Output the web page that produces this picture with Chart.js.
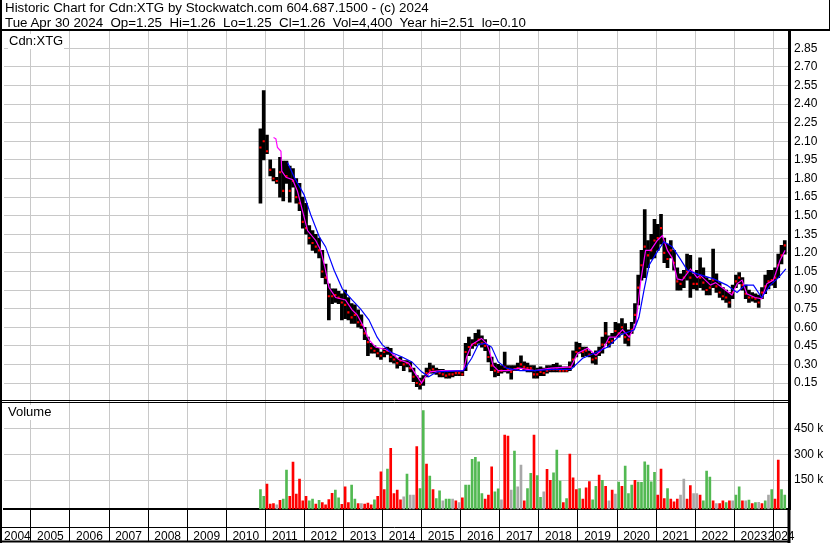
<!DOCTYPE html>
<html>
<head>
<meta charset="utf-8">
<title>Cdn:XTG historic chart</title>
<script src="https://cdn.jsdelivr.net/npm/chart.js@4.4.1/dist/chart.umd.min.js"></script>
<style>
  body { margin: 0; background: #fff; }
  #wrap { position: relative; width: 830px; height: 543px; overflow: hidden; font-family: "Liberation Sans", Arial, sans-serif; }
  #chart { position: absolute; left: 0; top: 0; }
  .txt { position: absolute; white-space: pre; color: #000; font-size: 13.33px; line-height: 14.5px; }
  .tag { background: #fff; padding: 0 1px; font-size: 13px; }
</style>
</head>
<body>
<div id="wrap">
  <canvas id="chart" width="830" height="543"></canvas>
  <div class="txt" style="left:5px;top:1px">Historic Chart for Cdn:XTG by Stockwatch.com 604.687.1500 - (c) 2024
Tue Apr 30 2024  Op=1.25  Hi=1.26  Lo=1.25  Cl=1.26  Vol=4,400  Year hi=2.51  lo=0.10</div>
  <div class="txt tag" style="left:8px;top:34px">Cdn:XTG</div>
  <div class="txt tag" style="left:7px;top:405px">Volume</div>
</div>
<script>
// monthly bars, Nov 2010 - Apr 2024
const months = [
  "2010-11", "2010-12",
  "2011-01", "2011-02", "2011-03", "2011-04", "2011-05", "2011-06", "2011-07", "2011-08", "2011-09", "2011-10", "2011-11", "2011-12",
  "2012-01", "2012-02", "2012-03", "2012-04", "2012-05", "2012-06", "2012-07", "2012-08", "2012-09", "2012-10", "2012-11", "2012-12",
  "2013-01", "2013-02", "2013-03", "2013-04", "2013-05", "2013-06", "2013-07", "2013-08", "2013-09", "2013-10", "2013-11", "2013-12",
  "2014-01", "2014-02", "2014-03", "2014-04", "2014-05", "2014-06", "2014-07", "2014-08", "2014-09", "2014-10", "2014-11", "2014-12",
  "2015-01", "2015-02", "2015-03", "2015-04", "2015-05", "2015-06", "2015-07", "2015-08", "2015-09", "2015-10", "2015-11", "2015-12",
  "2016-01", "2016-02", "2016-03", "2016-04", "2016-05", "2016-06", "2016-07", "2016-08", "2016-09", "2016-10", "2016-11", "2016-12",
  "2017-01", "2017-02", "2017-03", "2017-04", "2017-05", "2017-06", "2017-07", "2017-08", "2017-09", "2017-10", "2017-11", "2017-12",
  "2018-01", "2018-02", "2018-03", "2018-04", "2018-05", "2018-06", "2018-07", "2018-08", "2018-09", "2018-10", "2018-11", "2018-12",
  "2019-01", "2019-02", "2019-03", "2019-04", "2019-05", "2019-06", "2019-07", "2019-08", "2019-09", "2019-10", "2019-11", "2019-12",
  "2020-01", "2020-02", "2020-03", "2020-04", "2020-05", "2020-06", "2020-07", "2020-08", "2020-09", "2020-10", "2020-11", "2020-12",
  "2021-01", "2021-02", "2021-03", "2021-04", "2021-05", "2021-06", "2021-07", "2021-08", "2021-09", "2021-10", "2021-11", "2021-12",
  "2022-01", "2022-02", "2022-03", "2022-04", "2022-05", "2022-06", "2022-07", "2022-08", "2022-09", "2022-10", "2022-11", "2022-12",
  "2023-01", "2023-02", "2023-03", "2023-04", "2023-05", "2023-06", "2023-07", "2023-08", "2023-09", "2023-10", "2023-11", "2023-12",
  "2024-01", "2024-02", "2024-03", "2024-04"
];

const high = [
  2.20, 2.51,
  2.15, 1.95, 1.88, 1.81, 1.97, 1.94, 1.94, 1.90, 1.88, 1.80, 1.76, 1.65,
  1.60, 1.42, 1.38, 1.35, 1.32, 1.22, 1.11, 0.95, 0.91, 0.91, 0.89, 0.87,
  0.90, 0.84, 0.79, 0.78, 0.74, 0.70, 0.60, 0.52, 0.47, 0.45, 0.43, 0.40,
  0.43, 0.44, 0.43, 0.37, 0.35, 0.36, 0.33, 0.33, 0.32, 0.27, 0.21, 0.19,
  0.21, 0.27, 0.31, 0.29, 0.27, 0.26, 0.26, 0.24, 0.25, 0.25, 0.25, 0.25,
  0.25, 0.47, 0.52, 0.50, 0.55, 0.58, 0.53, 0.50, 0.45, 0.36, 0.31, 0.30,
  0.29, 0.40, 0.29, 0.29, 0.29, 0.31, 0.37, 0.32, 0.31, 0.29, 0.29, 0.27,
  0.28, 0.27, 0.29, 0.29, 0.30, 0.31, 0.29, 0.28, 0.28, 0.32, 0.41, 0.48,
  0.47, 0.44, 0.44, 0.41, 0.39, 0.41, 0.44, 0.52, 0.64, 0.53, 0.55, 0.64,
  0.63, 0.67, 0.63, 0.58, 0.64, 0.79, 1.02, 1.22, 1.55, 1.30, 1.35, 1.47,
  1.43, 1.51, 1.32, 1.27, 1.30, 1.22, 1.08, 1.03, 1.06, 1.19, 1.18, 1.03,
  1.06, 1.16, 1.08, 1.00, 0.98, 1.23, 1.03, 0.96, 0.92, 0.90, 0.88, 0.94,
  1.02, 1.04, 1.00, 0.94, 0.90, 0.88, 0.87, 0.86, 0.92, 1.02, 1.06, 1.06,
  1.08, 1.19, 1.26, 1.30
];

const low = [
  1.60, 1.95,
  2.00, 1.82, 1.78, 1.76, 1.65, 1.62, 1.76, 1.61, 1.73, 1.60, 1.54, 1.40,
  1.35, 1.27, 1.22, 1.20, 1.16, 1.00, 0.95, 0.66, 0.79, 0.80, 0.79, 0.66,
  0.67, 0.66, 0.63, 0.63, 0.60, 0.59, 0.50, 0.37, 0.39, 0.39, 0.36, 0.34,
  0.36, 0.38, 0.32, 0.31, 0.27, 0.29, 0.25, 0.28, 0.24, 0.16, 0.12, 0.10,
  0.13, 0.20, 0.23, 0.23, 0.22, 0.20, 0.20, 0.19, 0.19, 0.20, 0.21, 0.21,
  0.21, 0.25, 0.37, 0.43, 0.45, 0.47, 0.44, 0.41, 0.32, 0.25, 0.20, 0.21,
  0.23, 0.24, 0.23, 0.18, 0.25, 0.25, 0.27, 0.25, 0.24, 0.24, 0.19, 0.19,
  0.21, 0.21, 0.23, 0.24, 0.24, 0.24, 0.24, 0.24, 0.24, 0.25, 0.28, 0.36,
  0.39, 0.36, 0.37, 0.36, 0.31, 0.30, 0.37, 0.39, 0.47, 0.44, 0.47, 0.52,
  0.52, 0.55, 0.47, 0.45, 0.55, 0.63, 0.78, 0.98, 1.00, 1.08, 1.15, 1.16,
  1.22, 1.27, 1.12, 1.08, 1.16, 1.06, 0.90, 0.90, 0.92, 0.98, 0.84, 0.91,
  0.90, 0.92, 0.90, 0.86, 0.86, 0.92, 0.88, 0.84, 0.82, 0.80, 0.76, 0.83,
  0.92, 0.95, 0.90, 0.83, 0.80, 0.81, 0.80, 0.76, 0.83, 0.87, 0.91, 0.94,
  0.92, 1.00, 1.11, 1.19
];

const close = [
  2.05, 2.10,
  2.02, 1.87, 1.80, 1.78, 1.85, 1.70, 1.82, 1.70, 1.78, 1.65, 1.60, 1.45,
  1.40, 1.32, 1.28, 1.25, 1.22, 1.05, 1.00, 0.85, 0.85, 0.86, 0.84, 0.80,
  0.78, 0.72, 0.68, 0.70, 0.64, 0.62, 0.55, 0.48, 0.43, 0.41, 0.39, 0.37,
  0.40, 0.41, 0.36, 0.34, 0.31, 0.33, 0.30, 0.31, 0.27, 0.20, 0.15, 0.14,
  0.17, 0.23, 0.25, 0.26, 0.24, 0.23, 0.22, 0.21, 0.22, 0.22, 0.23, 0.23,
  0.22, 0.40, 0.44, 0.46, 0.47, 0.50, 0.47, 0.45, 0.36, 0.29, 0.25, 0.24,
  0.25, 0.28, 0.26, 0.24, 0.26, 0.27, 0.30, 0.28, 0.27, 0.27, 0.22, 0.22,
  0.24, 0.23, 0.25, 0.26, 0.26, 0.26, 0.25, 0.25, 0.25, 0.28, 0.34, 0.40,
  0.43, 0.40, 0.41, 0.38, 0.34, 0.35, 0.40, 0.46, 0.55, 0.48, 0.49, 0.57,
  0.55, 0.60, 0.52, 0.50, 0.58, 0.70, 0.92, 1.10, 1.25, 1.18, 1.22, 1.30,
  1.32, 1.40, 1.20, 1.15, 1.22, 1.12, 0.97, 0.95, 1.00, 1.05, 1.00, 0.95,
  0.95, 1.00, 0.96, 0.90, 0.92, 0.98, 0.93, 0.88, 0.85, 0.84, 0.80, 0.88,
  0.97, 1.00, 0.94, 0.87, 0.84, 0.84, 0.83, 0.80, 0.88, 0.93, 0.97, 0.98,
  1.00, 1.10, 1.18, 1.26
];

const volume = [
  96000, 57000,
  127000, 12000, 15000, 8000, 34000, 40000, 208000, 57000, 254000, 69000, 156000, 30000,
  57000, 30000, 40000, 12000, 33000, 20000, 8000, 38000, 74000, 92000, 48000, 10000,
  111000, 20000, 121000, 40000, 14000, 15000, 12000, 18000, 8000, 36000, 57000, 198000,
  96000, 214000, 334000, 72000, 92000, 36000, 53000, 185000, 63000, 63000, 344000, 101000,
  552000, 243000, 174000, 96000, 43000, 88000, 30000, 40000, 40000, 40000, 30000, 20000,
  48000, 121000, 121000, 270000, 282000, 256000, 72000, 40000, 63000, 227000, 82000, 100000,
  36000, 411000, 405000, 92000, 318000, 111000, 237000, 30000, 101000, 189000, 411000, 177000,
  50000, 82000, 212000, 149000, 193000, 324000, 145000, 20000, 43000, 301000, 163000, 96000,
  101000, 40000, 105000, 141000, 36000, 114000, 179000, 149000, 114000, 30000, 92000, 70000,
  139000, 114000, 231000, 72000, 121000, 149000, 139000, 137000, 256000, 237000, 140000, 195000,
  63000, 214000, 43000, 101000, 40000, 24000, 40000, 63000, 156000, 40000, 118000, 72000,
  72000, 63000, 30000, 202000, 168000, 30000, 15000, 15000, 30000, 20000, 30000, 30000,
  63000, 111000, 30000, 30000, 35000, 15000, 20000, 22000, 15000, 30000, 63000, 95000,
  40000, 266000, 95000, 63000
];

// tick of the volume bar: u = up, d = down, f = unchanged
const volumeDir = [
  "u", "u",
  "d", "d", "d", "f", "d", "u", "u", "d", "d", "d", "d", "d",
  "d", "u", "u", "d", "u", "d", "d", "d", "d", "u", "u", "d",
  "d", "d", "u", "u", "d", "f", "d", "d", "d", "u", "d", "d",
  "d", "u", "d", "d", "d", "d", "f", "u", "f", "f", "d", "u",
  "u", "d", "u", "d", "u", "u", "f", "u", "u", "f", "d", "f",
  "d", "u", "u", "u", "u", "u", "u", "d", "d", "d", "u", "u",
  "f", "d", "d", "f", "u", "f", "f", "d", "u", "u", "d", "u",
  "u", "f", "d", "d", "u", "u", "u", "d", "u", "d", "d", "d",
  "u", "d", "d", "d", "u", "u", "d", "u", "d", "f", "d", "f",
  "u", "d", "u", "u", "u", "d", "u", "u", "u", "u", "u", "u",
  "d", "d", "d", "u", "d", "d", "d", "f", "f", "d", "d", "f",
  "f", "d", "u", "u", "u", "d", "f", "d", "d", "u", "d", "f",
  "u", "u", "d", "f", "u", "d", "u", "f", "d", "u", "f", "u",
  "d", "d", "u", "u"
];

// moving averages (decimal year, price)
const fastMaAt = [
  2011.21, 2011.27, 2011.31, 2011.40, 2011.42, 2011.53, 2011.70, 2011.82, 2011.95,
  2012.08, 2012.29, 2012.42, 2012.54, 2012.63, 2012.80,
  2013.05, 2013.22, 2013.35, 2013.52, 2013.65, 2013.82,
  2014.07, 2014.20, 2014.41, 2014.67, 2014.83,
  2015.00, 2015.09, 2015.22, 2015.51,
  2016.07, 2016.15, 2016.28, 2016.53, 2016.66, 2016.74, 2016.83, 2016.96,
  2017.21, 2017.51, 2017.89,
  2018.31, 2018.82, 2018.99,
  2019.25, 2019.46, 2019.67, 2019.80, 2019.97,
  2020.14, 2020.31, 2020.48, 2020.61, 2020.73, 2020.86,
  2021.03, 2021.16, 2021.29, 2021.41, 2021.54, 2021.67, 2021.88,
  2022.05, 2022.13, 2022.39, 2022.52, 2022.73, 2022.94,
  2023.07, 2023.20, 2023.32, 2023.53, 2023.70, 2023.83,
  2024.00, 2024.17, 2024.30
];
const fastMa = [
  2.13, 2.12, 2.05, 2.02, 1.86, 1.81, 1.79, 1.70, 1.54,
  1.38, 1.30, 1.22, 1.06, 0.92, 0.84,
  0.82, 0.74, 0.70, 0.60, 0.50, 0.44,
  0.42, 0.40, 0.34, 0.31, 0.23,
  0.15, 0.20, 0.24, 0.25,
  0.25, 0.36, 0.46, 0.51, 0.47, 0.40, 0.29, 0.25,
  0.25, 0.27, 0.25,
  0.27, 0.28, 0.39,
  0.43, 0.375, 0.44, 0.52, 0.52,
  0.58, 0.52, 0.63, 0.98, 1.22, 1.22,
  1.30, 1.34, 1.22, 1.16, 0.99, 0.98, 1.07,
  1.00, 1.02, 0.94, 0.96, 0.91, 0.86,
  0.95, 0.98, 0.87, 0.84, 0.83, 0.95,
  0.98, 1.14, 1.22
];

const slowMaAt = [
  2011.57, 2011.74, 2011.99,
  2012.16, 2012.38, 2012.54, 2012.76, 2012.97,
  2013.22, 2013.43, 2013.65, 2013.86, 2013.99,
  2014.20, 2014.50, 2014.75,
  2015.00, 2015.18, 2015.39,
  2016.07, 2016.28, 2016.45, 2016.62, 2016.79, 2016.96,
  2017.17, 2017.51, 2017.89,
  2018.31, 2018.82,
  2019.12, 2019.42, 2019.76,
  2020.10, 2020.44, 2020.56, 2020.69, 2020.82, 2020.99,
  2021.20, 2021.41, 2021.62, 2021.80,
  2022.05, 2022.47, 2022.81,
  2023.07, 2023.28, 2023.49, 2023.70, 2023.92,
  2024.13, 2024.32
];
const slowMa = [
  1.93, 1.81, 1.67,
  1.51, 1.33, 1.25, 1.06, 0.91,
  0.82, 0.75, 0.66, 0.52, 0.46,
  0.40, 0.36, 0.32,
  0.24, 0.20, 0.24,
  0.25, 0.35, 0.46, 0.47, 0.44, 0.32,
  0.27, 0.25, 0.25,
  0.26, 0.26,
  0.35, 0.39, 0.44,
  0.54, 0.58, 0.68, 0.90, 1.10, 1.19,
  1.29, 1.25, 1.15, 1.06,
  1.03, 0.99, 0.94,
  0.88, 0.94, 0.94, 0.84, 0.94,
  1.00, 1.07
];

const years = ["2004", "2005", "2006", "2007", "2008", "2009", "2010", "2011", "2012", "2013",
  "2014", "2015", "2016", "2017", "2018", "2019", "2020", "2021", "2022", "2023", "2024"];
const priceTicks = [0.15, 0.30, 0.45, 0.60, 0.75, 0.90, 1.05, 1.20, 1.35, 1.50,
  1.65, 1.80, 1.95, 2.10, 2.25, 2.40, 2.55, 2.70, 2.85];
const volumeTicks = [150000, 300000, 450000];

// ---- build datasets ----
function monthPos(s) {
  const p = s.split("-");
  return +p[0] + (+p[1] - 0.5) / 12;
}
const monthX = months.map(monthPos);

const GRID = "#c8c8c8";
const VOL_COLORS = { u: "#52b952", d: "#ff0000", f: "#a8a8a8" };
const VOL_MIN = -18500;

const rangeData = monthX.map((x, i) => ({ x: x, y: [low[i], high[i]] }));
const closeData = monthX.map((x, i) => ({ x: x, y: close[i] }));
const volData = monthX.map((x, i) => ({ x: x, y: volume[i] }));
const fastData = fastMaAt.map((x, i) => ({ x: x, y: fastMa[i] }));
const slowData = slowMaAt.map((x, i) => ({ x: x, y: slowMa[i] }));

// frame lines around the panels
const framePlugin = {
  id: "frame",
  afterDraw(chart) {
    const ctx = chart.ctx;
    const a = chart.chartArea;
    const split = Math.round(chart.scales.y.bottom);
    const H = chart.height;
    const W = chart.width;
    function seg(x1, y1, x2, y2, w) {
      ctx.lineWidth = w;
      ctx.beginPath();
      ctx.moveTo(x1, y1);
      ctx.lineTo(x2, y2);
      ctx.stroke();
    }
    ctx.save();
    ctx.strokeStyle = "#000";
    seg(0, a.top - 1, W, a.top - 1, 2);           // under header
    seg(W - 0.5, 0, W - 0.5, a.top, 1);           // header right edge
    seg(1, 0, 1, H, 2);                           // left edge
    seg(a.right, a.bottom, a.right, H, 3);        // right edge below the volume axis
    seg(0, split - 1.5, a.right, split - 1.5, 1); // double line between panels
    seg(0, split + 0.5, a.right, split + 0.5, 1);
    seg(0, 527.5, a.right, 527.5, 1);             // date row divider
    seg(0, H - 1.5, a.right, H - 1.5, 2);         // bottom edge
    ctx.restore();
  }
};

Chart.defaults.font.family = '"Liberation Sans", Arial, sans-serif';
Chart.defaults.font.size = 12;
Chart.defaults.color = "#000";

new Chart(document.getElementById("chart"), {
  type: "bar",
  data: {
    datasets: [
      {
        type: "line", label: "slow", data: slowData, yAxisID: "y", order: 0,
        borderColor: "#0000ff", borderWidth: 1.2, pointRadius: 0, tension: 0
      },
      {
        type: "line", label: "fast", data: fastData, yAxisID: "y", order: 1,
        borderColor: "#ff00ff", borderWidth: 1.2, pointRadius: 0, tension: 0
      },
      {
        type: "line", label: "close", data: closeData, yAxisID: "y", order: 2,
        showLine: false, pointStyle: "rect", pointRadius: 1.5, pointBorderWidth: 0,
        pointBackgroundColor: "#ff0000", borderColor: "#ff0000"
      },
      {
        type: "bar", label: "range", data: rangeData, yAxisID: "y", order: 3,
        backgroundColor: "#000", barThickness: 3, grouped: false, minBarLength: 1
      },
      {
        type: "bar", label: "volume", data: volData, yAxisID: "yv", order: 4,
        backgroundColor: volumeDir.map(d => VOL_COLORS[d]),
        barThickness: 2, grouped: false, base: VOL_MIN
      }
    ]
  },
  options: {
    responsive: false,
    animation: false,
    devicePixelRatio: 1,
    layout: { padding: { top: 31, left: 0, right: 0, bottom: 0 } },
    plugins: { legend: { display: false }, tooltip: { enabled: false }, title: { display: false } },
    scales: {
      x: {
        type: "linear",
        position: "bottom",
        min: 2004.313,
        max: 2024.40,
        offset: false,
        afterBuildTicks(scale) {
          const t = [];
          years.forEach(lab => {
            const y0 = +lab;
            if (y0 > scale.min) t.push({ value: y0 });
            const a = Math.max(y0, scale.min);
            const b = Math.min(y0 + 1, scale.max);
            t.push({ value: (a + b) / 2, lab: lab });
          });
          t.sort((p, q) => p.value - q.value);
          scale.ticks = t;
        },
        afterFit(scale) { scale.height = 33.7; },
        ticks: {
          autoSkip: false, maxRotation: 0, minRotation: 0, padding: -12,
          font: { size: 12 },
          callback: (v, i, ticks) => ticks[i].lab || ""
        },
        grid: {
          offset: false,
          tickLength: 32,
          color: c => (c.tick && c.tick.lab) ? "rgba(0,0,0,0)" : GRID,
          tickColor: c => (c.tick && c.tick.lab) ? "rgba(0,0,0,0)" : "#000"
        },
        border: { display: true, color: "#000", width: 2 }
      },
      y: {
        type: "linear",
        position: "right",
        stack: "panels",
        stackWeight: 370.6,
        min: 0,
        max: 2.99,
        afterBuildTicks(scale) { scale.ticks = priceTicks.map(v => ({ value: v })); },
        afterFit(scale) { scale.width = 41; },
        ticks: { autoSkip: false, padding: 5, callback: v => v.toFixed(2) },
        grid: { color: GRID, drawTicks: false },
        border: { display: true, color: "#000", width: 3 }
      },
      yv: {
        type: "linear",
        position: "right",
        stack: "panels",
        stackWeight: 107.7,
        min: VOL_MIN,
        max: 604000,
        afterBuildTicks(scale) { scale.ticks = volumeTicks.map(v => ({ value: v })); },
        afterFit(scale) { scale.width = 41; },
        ticks: { autoSkip: false, padding: 5, callback: v => (v / 1000) + " k" },
        grid: { color: GRID, drawTicks: false },
        border: { display: true, color: "#000", width: 3 }
      }
    }
  },
  plugins: [framePlugin]
});
</script>
</body>
</html>
